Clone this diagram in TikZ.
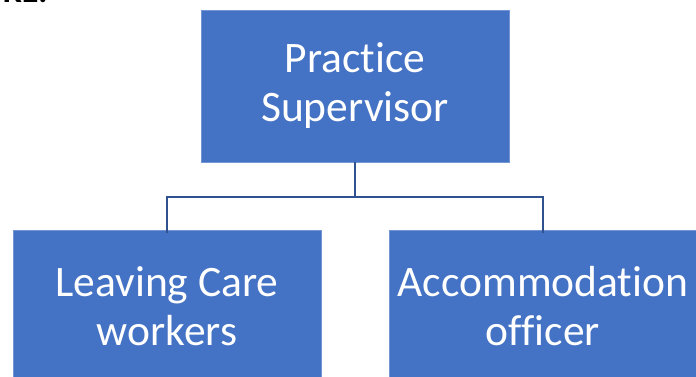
\documentclass[tikz,border=0pt]{standalone}
\usepackage{fontspec}
\setmainfont{Carlito}[Ligatures={NoCommon}]
\definecolor{boxblue}{HTML}{4472C4}
\definecolor{linkblue}{HTML}{2F528F}
\begin{document}
\begin{tikzpicture}[x=1pt,y=-1pt,
  orgbox/.style={fill=boxblue, draw=boxblue!75!white, line width=0.8pt,
    minimum width=308pt, minimum height=152pt, text=white, align=center,
    font=\fontsize{43.5}{49}\selectfont, inner sep=0pt},
  link/.style={draw=linkblue, line width=2.5pt}]
\useasboundingbox (0,0) rectangle (696,376);
\begin{scope}
\clip (0,0) rectangle (696,376);
\node[anchor=base west, inner sep=0pt, font=\bfseries\fontsize{34}{34}\selectfont] (frag) at (3,2.5) {KE.};
\node[orgbox] (ps) at (355,86) {Practice\\Supervisor};
\node[orgbox] (lc) at (167,306) {Leaving Care\\workers};
\node[orgbox] (ao) at (543,306) {Accommodation\\officer};
\end{scope}
\coordinate (mid) at (355,197);
\draw[link] (ps.south) -- (mid);
\draw[link] ([yshift=-3pt]lc.north) |- (mid) -| ([yshift=-3pt]ao.north);
\end{tikzpicture}
\end{document}
